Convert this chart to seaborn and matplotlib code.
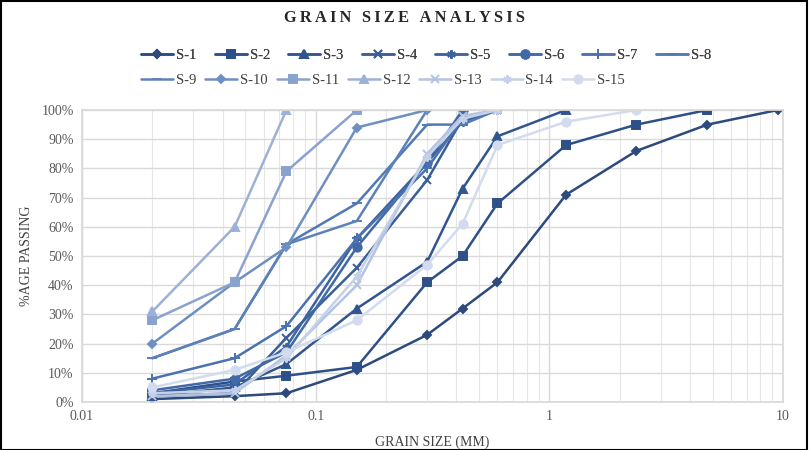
import numpy as np
import pandas as pd
import matplotlib
matplotlib.use("Agg")
import matplotlib.pyplot as plt
from matplotlib.patches import Rectangle
from matplotlib.ticker import FixedLocator, FuncFormatter, LogLocator, NullFormatter
import seaborn as sns

# ---- data ----
sieve_sizes = [0.02, 0.045, 0.075, 0.15, 0.3, 0.425, 0.6, 1.18, 2.36, 4.75, 9.5]
series_names = [f"S-{i}" for i in range(1, 16)]
s1 = [1, 2, 3, 11, 23, 32, 41, 71, 86, 95, 100]
s2 = [3, 7, 9, 12, 41, 50, 68, 88, 95, 100]
s3 = [2, 5, 13, 32, 48, 73, 91, 100]
s4 = [2, 3, 22, 46, 76, 97, 100]
s5 = [3, 6, 19, 56, 82, 96, 100]
s6 = [4, 8, 17, 53, 82, 100]
s7 = [8, 15, 26, 56, 80, 97, 100]
s8 = [15, 25, 54, 68, 95, 95, 100]
s9 = [15, 25, 54, 62, 100]
s10 = [20, 41, 53, 94, 100]
s11 = [28, 41, 79, 100]
s12 = [31, 60, 100]
s13 = [2, 3, 16, 40, 85, 98, 100]
s14 = [3, 4, 15, 43, 84, 97, 100]
s15 = [5, 11, 17, 28, 47, 61, 88, 96, 100]
all_values = [s1, s2, s3, s4, s5, s6, s7, s8, s9, s10, s11, s12, s13, s14, s15]
x_tick_values = [0.01, 0.1, 1, 10]
x_tick_labels = ["0.01", "0.1", "1", "10"]
y_ticks = list(range(0, 101, 10))
title_text = "GRAIN SIZE ANALYSIS"

# ---- style ----
colors = ["#2C4A7C", "#2E5088", "#31568F", "#3A5F98", "#3E64A0", "#4169A8", "#4A72B0",
          "#5279B5", "#5D82BA", "#6E8FC2", "#8AA2CE", "#9DB1D6", "#B4C3E0", "#C5D1E8", "#D3DBEE"]
markers = ["D", "s", "^", "x", (6, 2, 0), "o", "+", "_", "_", "D", "s", "^", "x", (6, 2, 0), "o"]
msizes = [4.5, 6, 6, 6, 6, 6, 7, 7, 7, 4.5, 6, 6, 6, 6, 6]

sns.set_theme(style="white")
plt.rcParams["font.family"] = ["Liberation Serif", "DejaVu Serif"]

fig = plt.figure(figsize=(8.09, 4.5), dpi=100)
ax = fig.add_axes([82 / 809, 48 / 450, 701 / 809, 292 / 450])

frames = []
for name, vals in zip(series_names, all_values):
    frames.append(pd.DataFrame({"size": sieve_sizes[:len(vals)], "passing": vals, "sample": name}))
df = pd.concat(frames, ignore_index=True)

for i, name in enumerate(series_names):
    sub = df[df["sample"] == name]
    sns.lineplot(data=sub, x="size", y="passing", ax=ax, color=colors[i], linewidth=1.8,
                 marker=markers[i], markersize=msizes[i], markeredgecolor=colors[i],
                 markeredgewidth=1.4, markerfacecolor=colors[i], label=name, sort=False)

ax.set_xscale("log")
ax.set_xlim(0.01, 10)
ax.set_ylim(0, 100)
ax.xaxis.set_major_locator(FixedLocator(x_tick_values))
ax.xaxis.set_major_formatter(FuncFormatter(lambda v, p: x_tick_labels[x_tick_values.index(v)] if v in x_tick_values else ""))
ax.xaxis.set_minor_locator(LogLocator(base=10, subs=np.arange(2, 10)))
ax.xaxis.set_minor_formatter(NullFormatter())
ax.set_yticks(y_ticks)
ax.yaxis.set_major_formatter(FuncFormatter(lambda v, p: f"{v:.0f}%"))
ax.grid(True, which="major", color="#d9d9d9", linewidth=1)
ax.grid(True, which="minor", axis="x", color="#e6e6e6", linewidth=0.8)
ax.set_axisbelow(True)
for s in ax.spines.values():
    s.set_color("#d9d9d9")
ax.tick_params(axis="both", which="both", length=0, labelsize=10, colors="#595959", pad=6)
ax.set_xlabel("GRAIN SIZE (MM)", fontsize=10, color="#404040", labelpad=9)
ax.set_ylabel("%AGE PASSING", fontsize=10, color="#404040", labelpad=6)

spaced_title = "\u2009".join(title_text)
fig.text(0.5, 1 - 18 / 450, spaced_title, ha="center", va="center",
         fontsize=11.8, fontweight="bold", color="#262626")

handles, labels = ax.get_legend_handles_labels()
if ax.legend_:
    ax.legend_.remove()
leg1 = fig.legend(handles[:8], labels[:8], ncol=8, loc="center left",
                  bbox_to_anchor=(128 / 809, 1 - 55 / 450), frameon=False, fontsize=10.5,
                  handlelength=2.2, handletextpad=0.2, columnspacing=1.25, labelcolor="#404040")
leg2 = fig.legend(handles[8:], labels[8:], ncol=7, loc="center left",
                  bbox_to_anchor=(128 / 809, 1 - 80 / 450), frameon=False, fontsize=10.5,
                  handlelength=2.2, handletextpad=0.2, columnspacing=0.6, labelcolor="#404040")
fig.add_artist(leg1)

fig.patches.append(Rectangle((0.001, 0.001), 0.997, 0.997, transform=fig.transFigure,
                             fill=False, edgecolor="black", linewidth=1.5))

fig.savefig("out.png", dpi=100)
